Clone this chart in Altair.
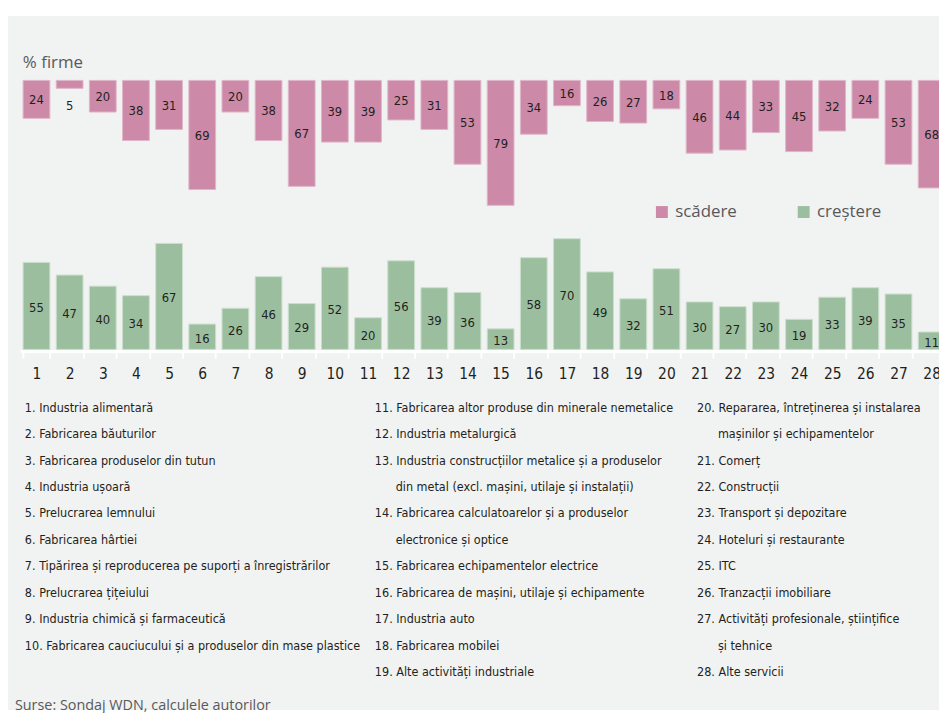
import altair as alt
import pandas as pd

# ---------------- data ----------------
categories = list(range(1, 29))
scadere = [24, 5, 20, 38, 31, 69, 20, 38, 67, 39, 39, 25, 31, 53, 79,
           34, 16, 26, 27, 18, 46, 44, 33, 45, 32, 24, 53, 68]
crestere = [55, 47, 40, 34, 67, 16, 26, 46, 29, 52, 20, 56, 39, 36, 13,
            58, 70, 49, 32, 51, 30, 27, 30, 19, 33, 39, 35, 11]
series_names = ["scădere", "creștere"]
y_title = "% firme"
source_note = "Surse: Sondaj WDN, calculele autorilor"
names = [
    "Industria alimentară",
    "Fabricarea băuturilor",
    "Fabricarea produselor din tutun",
    "Industria ușoară",
    "Prelucrarea lemnului",
    "Fabricarea hârtiei",
    "Tipărirea și reproducerea pe suporți a înregistrărilor",
    "Prelucrarea țițeiului",
    "Industria chimică și farmaceutică",
    "Fabricarea cauciucului și a produselor din mase plastice",
    "Fabricarea altor produse din minerale nemetalice",
    "Industria metalurgică",
    "Industria construcțiilor metalice și a produselor\ndin metal (excl. mașini, utilaje și instalații)",
    "Fabricarea calculatoarelor și a produselor\nelectronice și optice",
    "Fabricarea echipamentelor electrice",
    "Fabricarea de mașini, utilaje și echipamente",
    "Industria auto",
    "Fabricarea mobilei",
    "Alte activități industriale",
    "Repararea, întreținerea și instalarea\nmașinilor și echipamentelor",
    "Comerț",
    "Construcții",
    "Transport și depozitare",
    "Hoteluri și restaurante",
    "ITC",
    "Tranzacții imobiliare",
    "Activități profesionale, științifice\nși tehnice",
    "Alte servicii",
]
column_starts = [1, 11, 20]

# ---------------- style / layout ----------------
W, H, BOTTOM = 939, 343, 362
PINK, GREEN = "#cc8aa8", "#9bbf9e"
PANEL = "#f1f2f2"
DARK = "#231f20"
GREY_TXT = "#58595b"
NARROW = "Liberation Sans Narrow, DejaVu Sans Condensed, sans-serif"
WIDE = "Open Sans, sans-serif"

df = pd.DataFrame({
    "cat": categories * 2,
    "serie": [series_names[0]] * len(categories) + [series_names[1]] * len(categories),
    "v": scadere + crestere,
})

# category list rows
col_x = [17, 370, 695]
indent = 21
y0, lh = 400, 26.7
rows = []
for ci, start in enumerate(column_starts):
    end = column_starts[ci + 1] if ci + 1 < len(column_starts) else len(names) + 1
    r = 0
    for k in range(start, end):
        parts = names[k - 1].split("\n")
        for j, p in enumerate(parts):
            txt = f"{k}. {p}" if j == 0 else p
            rows.append({"t": txt, "px": col_x[ci] + (indent if j else 0), "py": y0 + r * lh})
            r += 1
list_df = pd.DataFrame(rows)

x_enc = alt.X(
    "cat:O",
    scale=alt.Scale(range=[12, 948.3], paddingInner=0.193, paddingOuter=0.0965),
    axis=alt.Axis(title=None, domainColor="white", domainWidth=3, tickColor="white",
                  tickWidth=2, tickSize=7, tickBand="extent", labelFont=NARROW,
                  labelFontSize=15.5, labelColor=DARK, labelPadding=9, labelAngle=0,
                  grid=False, zindex=1),
)
color_enc = alt.Color(
    "serie:N",
    scale=alt.Scale(domain=series_names, range=[PINK, GREEN]),
    legend=alt.Legend(title=None, orient="none", legendX=651, legendY=194,
                      direction="horizontal", symbolType="square", symbolSize=144,
                      symbolStrokeWidth=0, labelFont=WIDE, labelFontSize=17,
                      labelColor=GREY_TXT, labelOffset=5, columnPadding=58, padding=0),
)

pink_scale = alt.Scale(domain=[0, 100], range=[70, 229.5], nice=False)
green_scale = alt.Scale(domain=[0, 100], range=[341.3, 181.8], nice=False)

base = alt.Chart(df)

panel = alt.Chart(pd.DataFrame({"k": [0]})).mark_rect(color=PANEL).encode(
    x=alt.value(-1), x2=alt.value(W), y=alt.value(5), y2=alt.value(H + BOTTOM)
)

pink_bars = base.transform_filter(alt.datum.serie == series_names[0]).mark_bar(
    stroke="#dfb6c8", strokeWidth=1
).encode(x=x_enc, y=alt.Y("v:Q", scale=pink_scale, axis=None), color=color_enc)

pink_text = base.transform_filter(alt.datum.serie == series_names[0]).transform_calculate(
    pos="datum.v < 10 ? datum.v + 10.5 : datum.v / 2"
).mark_text(font=NARROW, fontSize=13, color=DARK, baseline="middle", dy=1).encode(
    x=x_enc, y=alt.Y("pos:Q", scale=pink_scale, axis=None), text="v:Q"
)

green_bars = base.transform_filter(alt.datum.serie == series_names[1]).mark_bar(
    stroke="#cadfcb", strokeWidth=1
).encode(x=x_enc, y=alt.Y("v:Q", scale=green_scale, axis=None), color=color_enc)

green_text = base.transform_filter(alt.datum.serie == series_names[1]).transform_calculate(
    pos="datum.v / 2"
).mark_text(font=NARROW, fontSize=13, color=DARK, baseline="middle", dy=2).encode(
    x=x_enc, y=alt.Y("pos:Q", scale=green_scale, axis=None), text="v:Q"
)

title_txt = alt.Chart(pd.DataFrame({"k": [0]})).mark_text(
    font=WIDE, fontSize=17, color=GREY_TXT, align="left", baseline="middle"
).encode(x=alt.value(15), y=alt.value(52), text=alt.value(y_title))

list_txt = alt.Chart(list_df).mark_text(
    font=NARROW, fontSize=12.6, color=DARK, align="left", baseline="middle"
).encode(
    x=alt.X("px:Q", scale=None, axis=None),
    y=alt.Y("py:Q", scale=None, axis=None),
    text="t:N",
)

source_txt = alt.Chart(pd.DataFrame({"k": [0]})).mark_text(
    font=WIDE, fontSize=14.5, color=GREY_TXT, align="left", baseline="middle"
).encode(x=alt.value(7), y=alt.value(701), text=alt.value(source_note))

chart = alt.layer(
    panel, pink_bars, pink_text, green_bars, green_text, title_txt, list_txt, source_txt
).resolve_scale(y="independent").properties(
    width=W, height=H, autosize="none",
    padding={"left": 0, "top": 0, "right": 0, "bottom": BOTTOM},
    background="white",
).configure_view(stroke=None)

chart.save("out.html", embed_options={"renderer": "svg", "actions": False})
